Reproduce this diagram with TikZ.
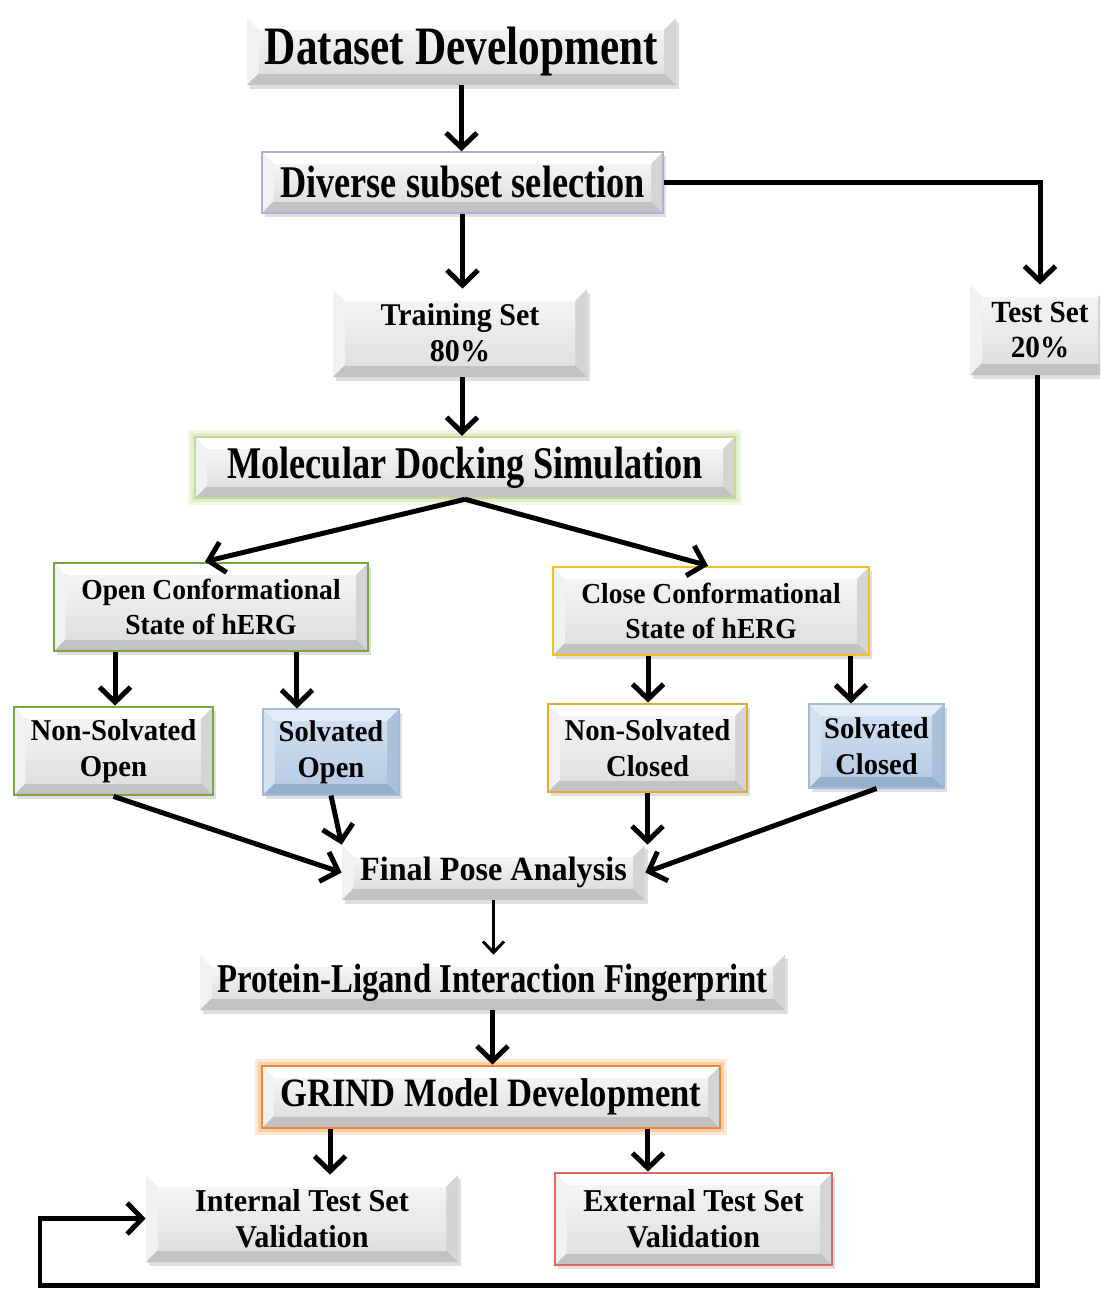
\documentclass[tikz,border=0pt]{standalone}
\usepackage{fontspec}
\setmainfont{Liberation Serif}
\newfontfamily\fcond[FakeStretch=0.8]{Liberation Serif}
\newfontfamily\fmid[FakeStretch=0.86]{Liberation Serif}
\newfontfamily\fnorm[FakeStretch=0.95]{Liberation Serif}
\usetikzlibrary{arrows.meta,calc,shadows}

\definecolor{gTop}{HTML}{FFFFFF}
\definecolor{gLeft}{HTML}{F1F1F1}
\definecolor{gRight}{HTML}{D4D4D4}
\definecolor{gBot}{HTML}{C2C2C2}
\definecolor{gC1}{HTML}{F4F4F4}
\definecolor{gC2}{HTML}{E0E0E0}
\definecolor{bTop}{HTML}{E4EDF7}
\definecolor{bLeft}{HTML}{D3E1F0}
\definecolor{bRight}{HTML}{A9C0DA}
\definecolor{bBot}{HTML}{95AFCC}
\definecolor{bC1}{HTML}{CFDEEF}
\definecolor{bC2}{HTML}{B7CCE4}
\definecolor{cPurple}{HTML}{B9A9D6}
\definecolor{cLGreen}{HTML}{C2DC98}
\definecolor{cLGreenGlow}{HTML}{E0EEC8}
\definecolor{cLGreenGlow2}{HTML}{F0F7E4}
\definecolor{cGreen}{HTML}{79A547}
\definecolor{cYellow}{HTML}{F0C21C}
\definecolor{cGold}{HTML}{E2AC34}
\definecolor{cOrange}{HTML}{EC8A3A}
\definecolor{cOrangeGlow}{HTML}{F8CFA6}
\definecolor{cOrangeGlow2}{HTML}{FCE8D4}
\definecolor{cRed}{HTML}{E06666}
\definecolor{cBlueEdge}{HTML}{A3BBD6}

\newlength\bvw
\setlength\bvw{0.24cm}
\newcommand\bevelpp[6]{%
  \coordinate (bNW) at (path picture bounding box.north west);
  \coordinate (bNE) at (path picture bounding box.north east);
  \coordinate (bSW) at (path picture bounding box.south west);
  \coordinate (bSE) at (path picture bounding box.south east);
  \coordinate (iNW) at ($(bNW)+(\bvw,-\bvw)$);
  \coordinate (iNE) at ($(bNE)+(-\bvw,-\bvw)$);
  \coordinate (iSW) at ($(bSW)+(\bvw,\bvw)$);
  \coordinate (iSE) at ($(bSE)+(-\bvw,\bvw)$);
  \fill[#1] (bNW)--(bNE)--(iNE)--(iNW)--cycle;
  \fill[#2] (bNW)--(bSW)--(iSW)--(iNW)--cycle;
  \fill[#3] (bNE)--(bSE)--(iSE)--(iNE)--cycle;
  \fill[#4] (bSW)--(bSE)--(iSE)--(iSW)--cycle;
  \shade[top color=#5,bottom color=#6] (iNW) rectangle (iSE);
}

\tikzset{
  box/.style={inner sep=0pt, align=center, text=black,
    drop shadow={shadow xshift=1.6pt, shadow yshift=-2pt, opacity=0.25},
    path picture={\bevelpp{gTop}{gLeft}{gRight}{gBot}{gC1}{gC2}}},
  bluebox/.style={box,
    path picture={\bevelpp{bTop}{bLeft}{bRight}{bBot}{bC1}{bC2}}},
  sz/.style 2 args={minimum width=#1*0.02cm, minimum height=#2*0.02cm},
  fsz/.style n args={3}{font=#1\fontsize{#2}{#3}\selectfont\bfseries},
  glow/.style 2 args={preaction={draw=#2, line width=8pt},
    preaction={draw=#1, line width=4.5pt}},
  arr/.style={line width=0.1cm, -{Straight Barb[length=0.3cm,width=0.62cm]}},
  thinarr/.style={line width=0.06cm, -{Straight Barb[length=0.22cm,width=0.42cm]}},
}

\begin{document}
\begin{tikzpicture}[x=0.02cm, y=-0.02cm]
\useasboundingbox (0,0) rectangle (1100,1289);
\clip (0,0) rectangle (1100,1289);
\fill[white] (0,0) rectangle (1100,1289);

% nodes
\node[box, sz={429}{67}, fsz={\fcond}{30.8pt}{31pt}] (dd) at (461.5,51.5) {Dataset Development};
\node[box, sz={401}{61}, fsz={\fcond}{25.8pt}{26pt}, draw=cPurple, line width=0.8pt] (ds) at (462.5,182.5) {Diverse subset selection};
\node[box, sz={254}{88}, fsz={\fnorm}{18pt}{20.4pt}] (tr) at (460,333) {Training Set\\80\%};
\node[box, sz={140}{90}, fsz={\fnorm}{17.5pt}{20.4pt}] (ts) at (1040,330) {Test Set\\20\%};
\node[box, sz={540}{61}, fsz={\fcond}{25.8pt}{26pt},
  glow={cLGreenGlow}{cLGreenGlow2},
  draw=cLGreen, line width=1.4pt] (mds) at (465,467.5) {Molecular Docking Simulation};
\node[box, sz={314}{88}, fsz={\fnorm}{16.5pt}{20pt}, draw=cGreen, line width=1.6pt] (open) at (211,607) {Open Conformational\\State of hERG};
\node[box, sz={316}{88}, fsz={\fnorm}{16.5pt}{20pt}, draw=cYellow, line width=1.6pt] (close) at (711,611) {Close Conformational\\State of hERG};
\node[box, sz={199}{88}, fsz={\fnorm}{17.2pt}{20.4pt}, draw=cGreen, line width=1.6pt] (nso) at (113.5,751) {Non-Solvated\\Open};
\node[bluebox, sz={136}{86}, fsz={\fnorm}{17.1pt}{20.4pt}, draw=cBlueEdge, line width=0.6pt] (so) at (331,752) {Solvated\\Open};
\node[box, sz={199}{88}, fsz={\fnorm}{17.2pt}{20.4pt}, draw=cGold, line width=1.6pt] (nsc) at (647.5,748) {Non-Solvated\\Closed};
\node[bluebox, sz={135}{84}, fsz={\fnorm}{17.1pt}{20.4pt}, draw=cBlueEdge, line width=0.6pt] (sc) at (876.5,746) {Solvated\\Closed};
\node[box, sz={303}{55}, fsz={\fnorm}{19.3pt}{20pt}] (fpa) at (493.5,872.5) {Final Pose Analysis};
\node[box, sz={585}{55}, fsz={\fcond}{23.3pt}{24pt}] (plif) at (492.5,982.5) {Protein-Ligand Interaction Fingerprint};
\node[box, sz={458}{62}, fsz={\fmid}{22.9pt}{23pt},
  glow={cOrangeGlow}{cOrangeGlow2},
  draw=cOrange, line width=1.6pt] (grind) at (491,1097) {GRIND Model Development};
\node[box, sz={312}{87}, fsz={\fnorm}{18.1pt}{20.4pt}] (its) at (302,1218.5) {Internal Test Set\\Validation};
\node[box, sz={277}{92}, fsz={\fnorm}{18.1pt}{20.4pt}, draw=cRed, line width=1.6pt] (ets) at (693.5,1219) {External Test Set\\Validation};

% connectors
\coordinate (lb) at (40,1285);
\draw[arr] (dd.south) -- (dd.south |- ds.north);
\draw[arr] (ds.south) -- (ds.south |- tr.north);
\draw[arr] (ds.east) -| (ts.north);
\draw[arr] ([xshift=0.04cm]tr.south) -- ([xshift=0.04cm]tr.south |- mds.north);
\draw[arr] (mds.south) -- ([xshift=-0.12cm]open.north);
\draw[arr] (mds.south) -- ([xshift=-0.06cm]close.north);
\draw[arr] ([xshift=-1.92cm]open.south) -- ([xshift=-1.92cm]open.south |- nso.north);
\draw[arr] ([xshift=1.72cm]open.south) -- ([xshift=1.72cm]open.south |- so.north);
\draw[arr] ([xshift=-1.26cm]close.south) -- ([xshift=-1.26cm]close.south |- nsc.north);
\draw[arr] ([xshift=2.8cm]close.south) -- ([xshift=2.8cm]close.south |- sc.north);
\draw[arr] (nso.south) -- (fpa.west);
\draw[arr] (so.south) -- (fpa.north west);
\draw[arr] (nsc.south) -- (nsc.south |- fpa.north);
\draw[arr] (sc.south) -- (fpa.east);
\draw[thinarr] (fpa.south) -- (fpa.south |- plif.north);
\draw[arr] (plif.south) -- (plif.south |- grind.north);
\draw[arr] ([xshift=-3.22cm]grind.south) -- ([xshift=-3.22cm]grind.south |- its.north);
\draw[arr] ([xshift=3.14cm]grind.south) -- ([xshift=3.14cm]grind.south |- ets.north);
\draw[arr] ([xshift=-0.06cm]ts.south) |- (lb) |- (its.west);
\end{tikzpicture}
\end{document}
